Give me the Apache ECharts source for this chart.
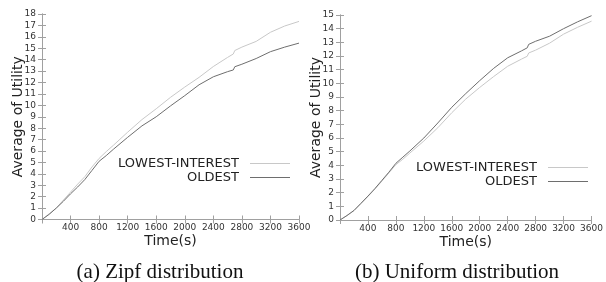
<!DOCTYPE html>
<html>
<head>
<meta charset="utf-8">
<title>Average of Utility</title>
<script src="https://cdn.jsdelivr.net/npm/echarts@6/dist/echarts.min.js"></script>
<style>
  html, body { margin: 0; padding: 0; background: #fff; }
  #chart { width: 606px; height: 282px; }
</style>
</head>
<body>
<div id="chart"></div>
<script>
// 时间点（秒），两幅图共用
const times = [0, 100, 200, 300, 400, 500, 600, 700, 800, 900, 1000, 1200, 1400, 1600, 1800,
  2000, 2200, 2400, 2600, 2680, 2700, 2800, 3000, 3200, 3400, 3600];

// (a) Zipf distribution
const zipfLowest = [0, 0.5, 1.0, 1.7, 2.4, 3.1, 3.75, 4.6, 5.35, 5.95, 6.5, 7.65, 8.75, 9.7, 10.7,
  11.6, 12.45, 13.4, 14.2, 14.5, 14.8, 15.1, 15.6, 16.4, 16.95, 17.35];
const zipfOldest = [0, 0.45, 1.0, 1.6, 2.25, 2.85, 3.5, 4.3, 5.1, 5.6, 6.15, 7.2, 8.2, 9.0, 9.95,
  10.85, 11.8, 12.5, 12.95, 13.1, 13.38, 13.6, 14.1, 14.7, 15.1, 15.45];

// (b) Uniform distribution
const uniLowest = [0, 0.32, 0.68, 1.2, 1.72, 2.27, 2.85, 3.45, 4.05, 4.45, 4.9, 5.78, 6.75, 7.85, 8.85,
  9.7, 10.5, 11.25, 11.78, 11.98, 12.22, 12.43, 12.94, 13.6, 14.1, 14.55];
const uniOldest = [0, 0.33, 0.7, 1.22, 1.75, 2.3, 2.9, 3.5, 4.15, 4.6, 5.05, 6.0, 7.1, 8.25, 9.25,
  10.2, 11.1, 11.87, 12.38, 12.6, 12.85, 13.08, 13.45, 14.0, 14.5, 14.95];

const seriesNames = ['LOWEST-INTEREST', 'OLDEST'];
const captions = ['(a) Zipf distribution', '(b) Uniform distribution'];
const xTitle = 'Time(s)';
const yTitle = 'Average of Utility';

const lightColor = '#c8c8c8';
const darkColor = '#6e6e6e';
const borderColor = '#a0a0a0';
const font = 'DejaVu Sans';

function pairs(xs, ys) {
  return xs.map(function(x, i) { return [x, ys[i]]; });
}

/**
 * 单个坐标系的四条边（gnuplot 风格：刻度朝内，四边都有）
 */
function axesFor(gridIndex, yMax) {
  const line = { show: true, lineStyle: { color: borderColor, width: 1 } };
  const tick = { show: true, inside: true, length: 4, lineStyle: { color: borderColor } };
  const x = {
    type: 'value', gridIndex: gridIndex, min: 0, max: 3600, interval: 400,
    axisLine: line, axisTick: tick, splitLine: { show: false }
  };
  const y = {
    type: 'value', gridIndex: gridIndex, min: 0, max: yMax, interval: 1,
    axisLine: line, axisTick: tick, splitLine: { show: false }
  };
  return {
    x: [
      Object.assign({}, x, {
        position: 'bottom',
        name: xTitle, nameLocation: 'middle', nameGap: 15, nameMoveOverlap: false,
        nameTextStyle: { fontFamily: font, fontSize: 14, color: '#222', verticalAlign: 'top' },
        axisLabel: {
          fontFamily: font, fontSize: 9, color: '#333', margin: 4,
          formatter: function(v) { return v === 0 ? '' : String(v); }
        }
      }),
      Object.assign({}, x, { position: 'top', axisLabel: { show: false } })
    ],
    y: [
      Object.assign({}, y, {
        position: 'left',
        name: yTitle, nameLocation: 'middle', nameGap: 17, nameRotate: 90, nameMoveOverlap: false,
        nameTextStyle: { fontFamily: font, fontSize: 14, color: '#222' },
        axisLabel: { fontFamily: font, fontSize: 9, color: '#333', margin: 6 }
      }),
      Object.assign({}, y, { position: 'right', axisLabel: { show: false } })
    ]
  };
}

function lineSeries(name, data, color, xIndex, yIndex) {
  return {
    name: name, type: 'line', data: data,
    xAxisIndex: xIndex, yAxisIndex: yIndex,
    symbol: 'none', silent: true, animation: false,
    lineStyle: { color: color, width: 1 },
    itemStyle: { color: color }
  };
}

function legendAt(right, top) {
  return {
    orient: 'vertical', align: 'right', right: right, top: top,
    padding: 0, icon: 'rect',
    itemWidth: 40, itemHeight: 1, itemGap: 1,
    selectedMode: false,
    textStyle: { fontFamily: font, fontSize: 13, color: '#222', padding: [0, 6, 6, 0] },
    data: seriesNames
  };
}

document.addEventListener('DOMContentLoaded', function() {
  const chart = echarts.init(document.getElementById('chart'), null, { renderer: 'canvas' });

  const a = axesFor(0, 18);
  const b = axesFor(1, 15);

  const captionStyle = { fontFamily: 'Liberation Serif', fontWeight: 'normal', fontSize: 21, color: '#111' };

  const option = {
    animation: false,
    title: [
      { text: captions[0], left: 155, top: 257, textAlign: 'center', textStyle: captionStyle },
      { text: captions[1], left: 452, top: 257, textAlign: 'center', textStyle: captionStyle }
    ],
    grid: [
      { left: 42, top: 14, width: 257, height: 205.5 },
      { left: 340, top: 15, width: 257, height: 205 }
    ],
    legend: [legendAt(316, 157), legendAt(18, 161)],
    xAxis: a.x.concat(b.x),
    yAxis: a.y.concat(b.y),
    series: [
      lineSeries(seriesNames[0], pairs(times, zipfLowest), lightColor, 0, 0),
      lineSeries(seriesNames[1], pairs(times, zipfOldest), darkColor, 0, 0),
      lineSeries(seriesNames[0], pairs(times, uniLowest), lightColor, 2, 2),
      lineSeries(seriesNames[1], pairs(times, uniOldest), darkColor, 2, 2)
    ]
  };

  chart.setOption(option);
});
</script>
</body>
</html>
